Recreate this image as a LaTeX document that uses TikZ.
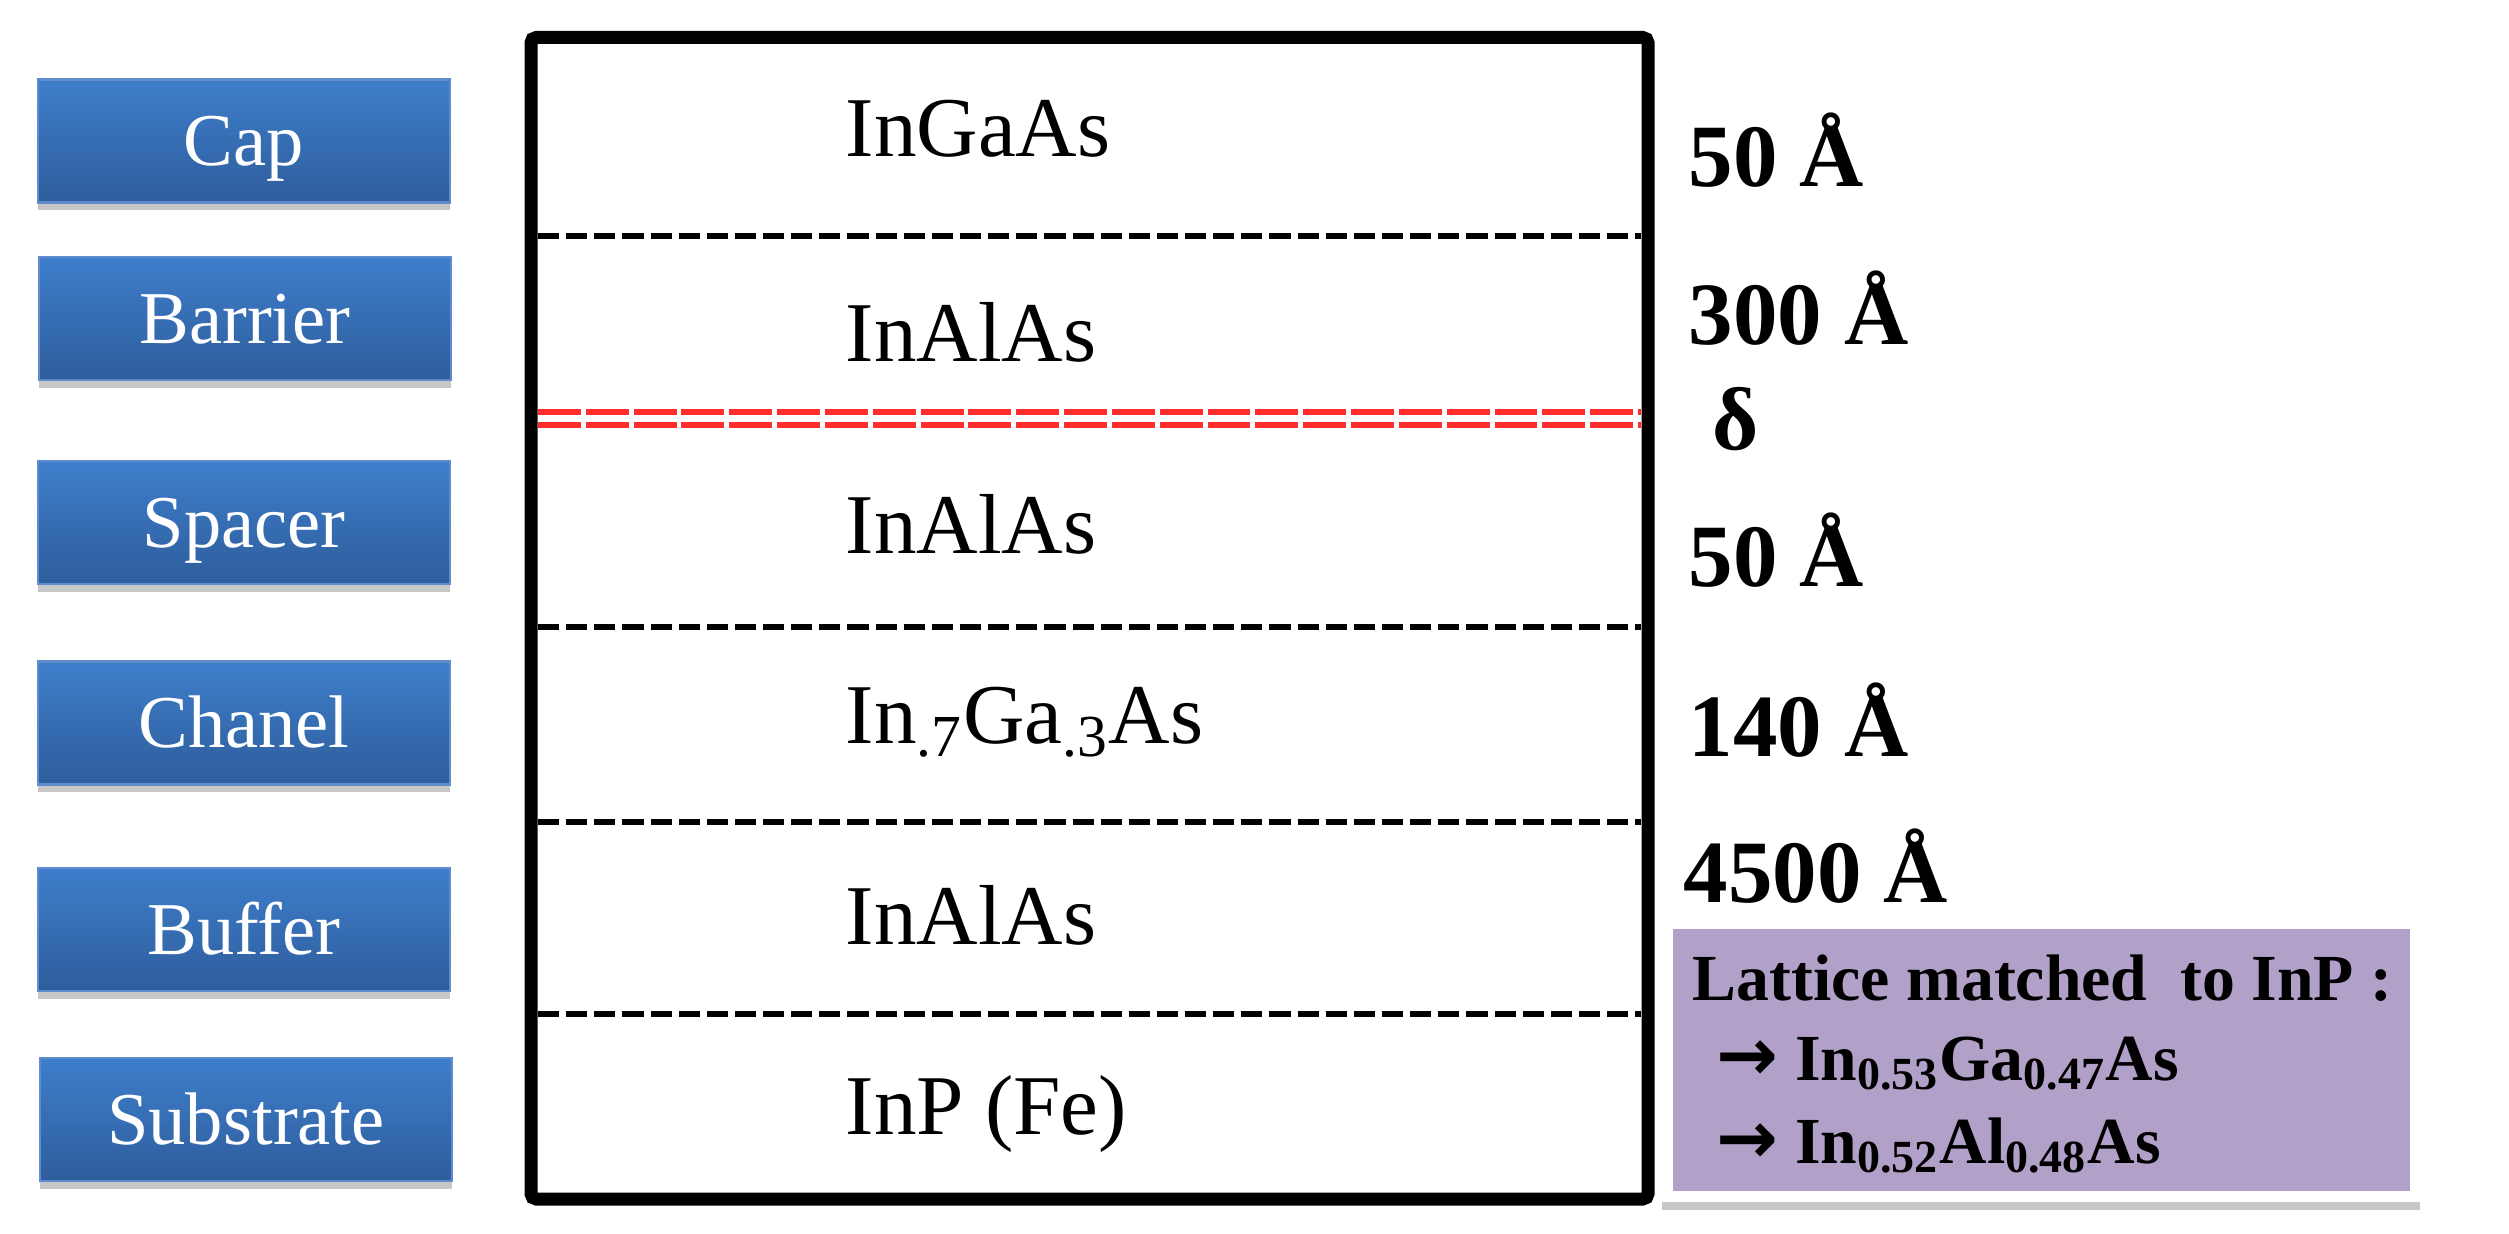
\documentclass[tikz,border=0pt]{standalone}
\usepackage{fontspec}
\setmainfont{Liberation Serif}
\newfontfamily\arrowfont{DejaVu Sans}
\usetikzlibrary{shadows}
\definecolor{boxtop}{RGB}{62,126,203}
\definecolor{boxbot}{RGB}{46,93,156}
\definecolor{boxedge}{RGB}{95,140,205}
\definecolor{lav}{RGB}{177,160,199}
\definecolor{redline}{RGB}{255,45,45}
\begin{document}
\begin{tikzpicture}[x=0.01cm,y=-0.01cm,
  bluebox/.style={draw=boxedge, line width=0.6pt, top color=boxtop, bottom color=boxbot,
    minimum width=4.12cm, minimum height=1.23cm, inner sep=0pt,
    text height=14pt, text depth=0pt, text=white,
    font=\fontsize{21.2pt}{25pt}\selectfont,
    drop shadow={shadow xshift=0pt, shadow yshift=-2.2pt, fill=black, opacity=0.22}},
  layertext/.style={anchor=base west, inner sep=0pt, font=\fontsize{24.2pt}{29pt}\selectfont},
  thick label/.style={anchor=base west, inner sep=0pt, font=\fontsize{25.3pt}{30pt}\selectfont\bfseries},
  lavtext/.style={anchor=base west, inner sep=0pt, font=\fontsize{18.7pt}{22pt}\selectfont\bfseries},
  sepline/.style={line width=1.7pt, dash pattern=on 6pt off 2pt},
  deltaline/.style={redline, line width=1.6pt, dash pattern=on 12.2pt off 1.4pt}]
\useasboundingbox (0,0) rectangle (2509,1234);

% left blue labels
\node[bluebox] (cap) at (244,141) {Cap};
\node[bluebox] (barrier) at (245,318.5) {Barrier};
\node[bluebox] (spacer) at (244,522.5) {Spacer};
\node[bluebox] (chanel) at (244,723) {Chanel};
\node[bluebox] (buffer) at (244,929.5) {Buffer};
\node[bluebox] (substrate) at (246,1119.5) {Substrate};

% separators
\coordinate (s1l) at (538,236);  \coordinate (s1r) at (1641,236);
\coordinate (s2l) at (538,627);  \coordinate (s2r) at (1641,627);
\coordinate (s3l) at (538,822);  \coordinate (s3r) at (1641,822);
\coordinate (s4l) at (538,1014); \coordinate (s4r) at (1641,1014);
\draw[sepline] (s1l) -- (s1r);
\draw[sepline] (s2l) -- (s2r);
\draw[sepline] (s3l) -- (s3r);
\draw[sepline] (s4l) -- (s4r);
\coordinate (d1l) at (538,412); \coordinate (d1r) at (1641,412);
\coordinate (d2l) at (538,425); \coordinate (d2r) at (1641,425);
\draw[deltaline] (d1l) -- (d1r);
\draw[deltaline] (d2l) -- (d2r);

% main box
\draw[line width=3.7pt, rounded corners=1.5pt] (531,37.5) rectangle (1648,1199);

% layer names
\node[layertext] (l1) at (845,157) {InGaAs};
\node[layertext] (l2) at (845,362) {InAlAs};
\node[layertext] (l3) at (845,554) {InAlAs};
\node[layertext] (l4) at (845,743) {In\textsubscript{.7}Ga\textsubscript{.3}As};
\node[layertext] (l5) at (845,944) {InAlAs};
\node[layertext] (l6) at (845,1134) {InP (Fe)};

% thicknesses
\node[thick label] (t1) at (1688,187) {50 Å};
\node[thick label] (t2) at (1688,345) {300 Å};
\node[thick label] (t3) at (1712,450) {δ};
\node[thick label] (t4) at (1688,587) {50 Å};
\node[thick label] (t5) at (1688,757) {140 Å};
\node[thick label] (t6) at (1683,902) {4500 Å};

% lattice note
\fill[white, drop shadow={shadow xshift=0pt, shadow yshift=-2.2pt, fill=black, opacity=0.22}]
  (1662,921) rectangle (2420,1202);
\fill[lav] (1673,929) rectangle (2410,1191);
\node[lavtext] (n1) at (1692,1000) {Lattice matched \ to InP :};
\node[lavtext] (n2) at (1716,1080) {{\arrowfont\bfseries\fontsize{21pt}{22pt}\selectfont →} In\textsubscript{0.53}Ga\textsubscript{0.47}As};
\node[lavtext] (n3) at (1716,1163) {{\arrowfont\bfseries\fontsize{21pt}{22pt}\selectfont →} In\textsubscript{0.52}Al\textsubscript{0.48}As};
\end{tikzpicture}
\end{document}
